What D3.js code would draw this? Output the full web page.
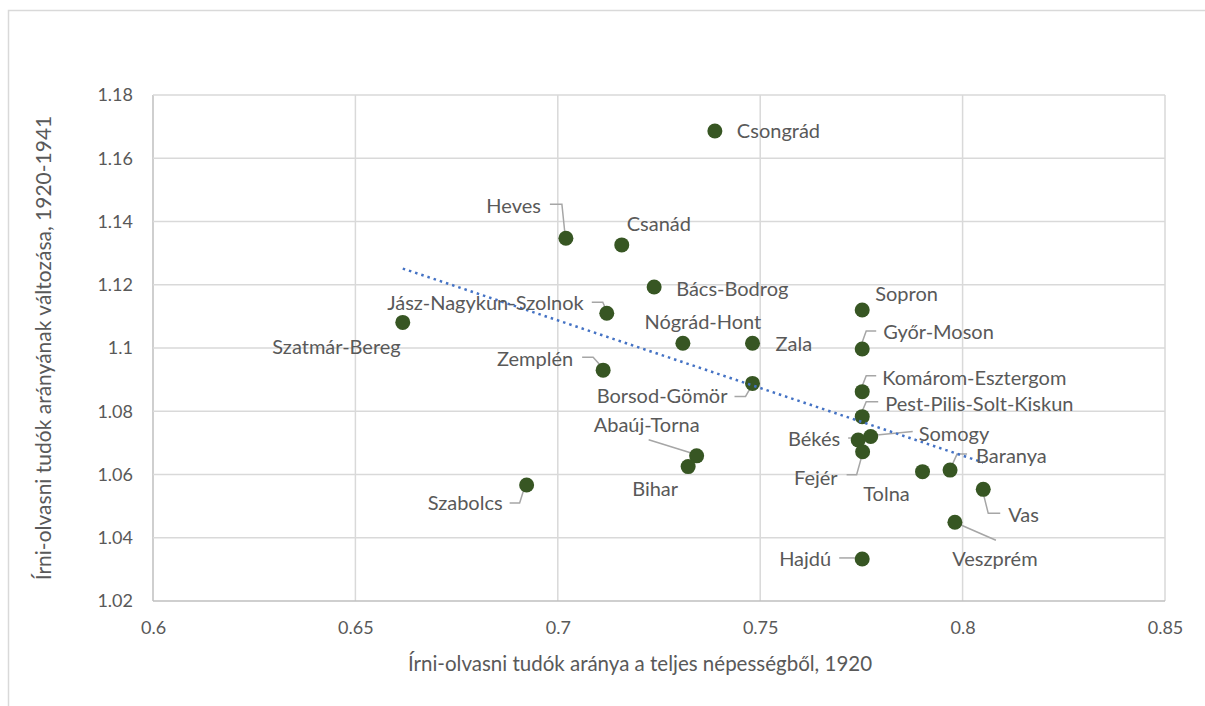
<!DOCTYPE html>
<html>
<head>
<meta charset="utf-8">
<script src="https://cdn.jsdelivr.net/npm/d3@7"></script>
<style>
  html, body { margin: 0; padding: 0; background: #ffffff; }
  svg { display: block; }
  text { font-family: Lato, "Open Sans", sans-serif; fill: #595959; }
</style>
</head>
<body>
<svg id="chart" width="1205" height="706"></svg>
<script>
// ---- data ----
const counties = ["Csongrád","Heves","Csanád","Bács-Bodrog","Jász-Nagykun-Szolnok","Szatmár-Bereg","Nógrád-Hont","Zala","Zemplén","Borsod-Gömör","Sopron","Győr-Moson","Komárom-Esztergom","Pest-Pilis-Solt-Kiskun","Somogy","Békés","Fejér","Tolna","Baranya","Vas","Veszprém","Hajdú","Abaúj-Torna","Bihar","Szabolcs"];
const literacy1920 = [0.7388,0.7020,0.7158,0.7238,0.7121,0.6617,0.7309,0.7481,0.7112,0.7481,0.7752,0.7752,0.7752,0.7752,0.7773,0.7742,0.7753,0.7901,0.7969,0.8051,0.7981,0.7752,0.7343,0.7322,0.6923];
const literacyChange = [1.1686,1.1347,1.1326,1.1193,1.1110,1.1081,1.1015,1.1015,1.0930,1.0888,1.1120,1.0997,1.0862,1.0783,1.0720,1.0709,1.0672,1.0609,1.0614,1.0553,1.0449,1.0333,1.0659,1.0625,1.0567];
const xTicks = [0.6,0.65,0.7,0.75,0.8,0.85];
const yTicks = [1.02,1.04,1.06,1.08,1.1,1.12,1.14,1.16,1.18];
const xTitle = "Írni-olvasni tudók aránya a teljes népességből, 1920";
const yTitle = "Írni-olvasni tudók arányának változása, 1920-1941";

// ---- label layout (pixel offsets from the marker) ----
const labelLayout = {
  "Csongrád": {dx:22, dy:0, a:"start"},
  "Heves": {dx:-25, dy:-32, a:"end", lead:[[-16,-34],[-4,-34],[-1,-5]]},
  "Csanád": {dx:5, dy:-21, a:"start"},
  "Bács-Bodrog": {dx:22, dy:2, a:"start"},
  "Jász-Nagykun-Szolnok": {dx:-23, dy:-10, a:"end", lead:[[-15,-11],[-4,-11],[0,-2]]},
  "Szatmár-Bereg": {dx:-2, dy:25, a:"end"},
  "Nógrád-Hont": {dx:20, dy:-21, a:"middle"},
  "Zala": {dx:23, dy:1, a:"start"},
  "Zemplén": {dx:-30, dy:-11, a:"end", lead:[[-21,-13],[-10,-13],[-1,-3]]},
  "Borsod-Gömör": {dx:-25, dy:13, a:"end", lead:[[-18,13],[-7,13],[0,1]]},
  "Sopron": {dx:13, dy:-16, a:"start"},
  "Győr-Moson": {dx:21, dy:-17, a:"start", lead:[[14,-18],[4,-18],[-1,-4]]},
  "Komárom-Esztergom": {dx:20, dy:-14, a:"start", lead:[[14,-16],[4,-16],[-1,-3]]},
  "Pest-Pilis-Solt-Kiskun": {dx:23, dy:-13, a:"start", lead:[[16,-15],[4,-15],[-1,-3]]},
  "Somogy": {dx:48, dy:-3, a:"start", lead:[[42,-5],[1,-1]]},
  "Békés": {dx:-18, dy:-1, a:"end", lead:[[-10,-2],[2,-2]]},
  "Fejér": {dx:-25, dy:26, a:"end", lead:[[-16,23],[-6,23],[-1,5]]},
  "Tolna": {dx:-36, dy:22, a:"middle"},
  "Baranya": {dx:26, dy:-14, a:"start", lead:[[17,-16],[7,-16],[2,-5]]},
  "Vas": {dx:25, dy:26, a:"start", lead:[[0,4],[5,24],[17,24]]},
  "Veszprém": {dx:40, dy:37, a:"middle", lead:[[2,1],[41,18]]},
  "Hajdú": {dx:-31, dy:0, a:"end", lead:[[-23,-1],[-6,-1]]},
  "Abaúj-Torna": {dx:-50, dy:-31, a:"middle", lead:[[-48,-16],[-3,-2]]},
  "Bihar": {dx:-33, dy:22, a:"middle"},
  "Szabolcs": {dx:-24, dy:18, a:"end", lead:[[-17,18],[-7,18],[-2,2]]}
};

const svg = d3.select("#chart");
const m = {left:153, top:95, right:1165, bottom:601};

const x = d3.scaleLinear().domain([0.6, 0.85]).range([m.left, m.right]);
const y = d3.scaleLinear().domain([1.02, 1.18]).range([m.bottom, m.top]);
const fmt = d => String(+d.toFixed(2));

// outer frame (only top & left visible)
svg.append("path").attr("d", "M8.5,706 V10.5 H1205")
  .attr("fill","none").attr("stroke","#d9d9d9").attr("stroke-width",1.5);

// gridlines
svg.append("g").selectAll("line").data(xTicks).join("line")
  .attr("x1", d=>x(d)).attr("x2", d=>x(d)).attr("y1", m.top).attr("y2", m.bottom)
  .attr("stroke", (d,i)=> i===0 ? "#bfbfbf" : "#d9d9d9").attr("stroke-width",1.5);
svg.append("g").selectAll("line").data(yTicks).join("line")
  .attr("x1", m.left).attr("x2", m.right).attr("y1", d=>y(d)).attr("y2", d=>y(d))
  .attr("stroke", (d,i)=> i===0 ? "#bfbfbf" : "#d9d9d9").attr("stroke-width",1.5);

// axes via d3
const xAxis = d3.axisBottom(x).tickValues(xTicks).tickFormat(fmt).tickSize(0).tickPadding(20);
const yAxis = d3.axisLeft(y).tickValues(yTicks).tickFormat(fmt).tickSize(0).tickPadding(20);
const gx = svg.append("g").attr("transform", `translate(0,${m.bottom})`).call(xAxis);
const gy = svg.append("g").attr("transform", `translate(${m.left},0)`).call(yAxis);
[gx, gy].forEach(g => {
  g.select(".domain").remove();
  g.selectAll("text").style("font-family","Lato, sans-serif").style("font-size","18px").attr("fill","#595959");
});

// axis titles
svg.append("text").attr("x", 640).attr("y", 664).attr("dy","0.35em")
  .attr("text-anchor","middle").style("font-size","20.5px").text(xTitle);
svg.append("text").attr("transform", `translate(44,${(m.top+m.bottom)/2}) rotate(-90)`)
  .attr("dy","0.35em").attr("text-anchor","middle").style("font-size","21px").text(yTitle);

// data
const pts = counties.map((c,i)=>({name:c, x:literacy1920[i], y:literacyChange[i]}));

// linear trendline (least squares, spans the x range of the data)
const mx = d3.mean(pts, d=>d.x), my = d3.mean(pts, d=>d.y);
const slope = d3.sum(pts, d=>(d.x-mx)*(d.y-my)) / d3.sum(pts, d=>(d.x-mx)**2);
const icpt = my - slope*mx;
const [xmin, xmax] = d3.extent(pts, d=>d.x);

// leader lines
svg.append("g").selectAll("path").data(pts.filter(p=>labelLayout[p.name].lead)).join("path")
  .attr("d", p => d3.line()(labelLayout[p.name].lead.map(o=>[x(p.x)+o[0], y(p.y)+o[1]])))
  .attr("fill","none").attr("stroke","#a6a6a6").attr("stroke-width",1.5);

// markers
svg.append("g").selectAll("circle").data(pts).join("circle")
  .attr("cx", d=>x(d.x)).attr("cy", d=>y(d.y)).attr("r", 7.5)
  .attr("fill","#375623");

// trendline on top of markers
svg.append("line")
  .attr("x1", x(xmin)).attr("y1", y(icpt+slope*xmin))
  .attr("x2", x(xmax)).attr("y2", y(icpt+slope*xmax))
  .attr("stroke","#4472c4").attr("stroke-width",2.5)
  .attr("stroke-dasharray","2.5 4").attr("stroke-linecap","butt");

// data labels
svg.append("g").selectAll("text").data(pts).join("text")
  .attr("x", d=>x(d.x)+labelLayout[d.name].dx)
  .attr("y", d=>y(d.y)+labelLayout[d.name].dy)
  .attr("dy","0.35em")
  .attr("text-anchor", d=>labelLayout[d.name].a)
  .style("font-size","20px")
  .text(d=>d.name);
</script>
</body>
</html>
